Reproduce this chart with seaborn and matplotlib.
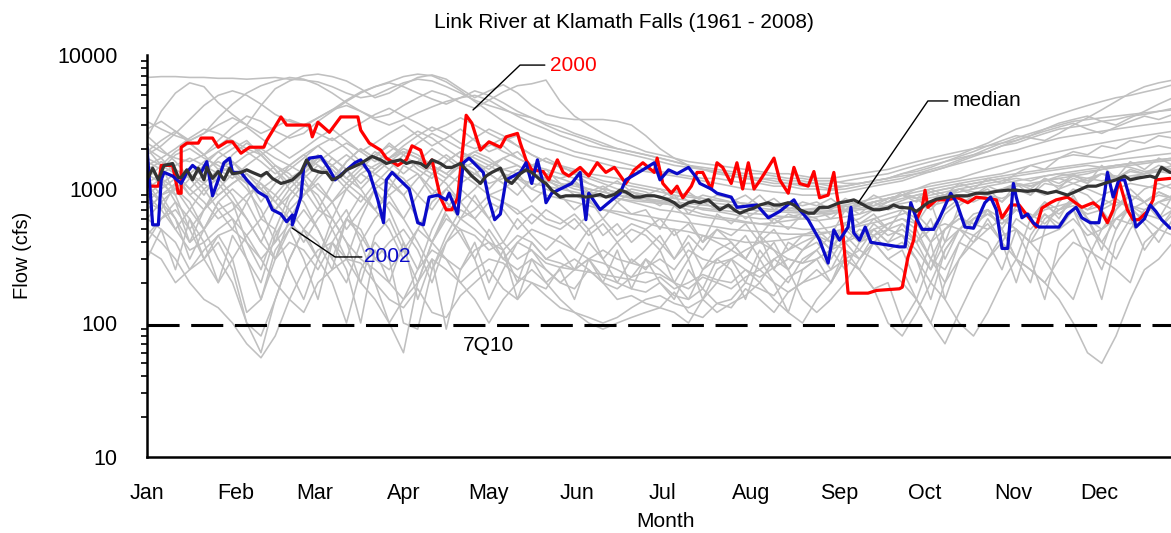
import numpy as np
import pandas as pd
import matplotlib
matplotlib.use('Agg')
import matplotlib.pyplot as plt
import matplotlib.ticker as mticker
import seaborn as sns

# month ticks (day of year)
month_days = [1, 32, 60, 91, 121, 152, 182, 213, 244, 274, 305, 335]
month_labels = ['Jan', 'Feb', 'Mar', 'Apr', 'May', 'Jun', 'Jul', 'Aug', 'Sep', 'Oct', 'Nov', 'Dec']

# 7Q10 low flow level (cfs)
q7_10 = 96

# individual years, read every 5 days (day 1 .. 361)
# month blocks: Jan 6, Feb 5, Mar..Nov 6 each, Dec 8 values
gray_days = list(range(1, 362, 5))
gray_years = [
    # wet years
    [6800,6900,6900,6800,6800,6700, 6700,6600,6700,6800,6600, 6500,6300,5800,5200,4800,5000, 5600,6200,6600,6400,5800,5200,
     4600,4200,3900,3600,3400,3100, 2900,2600,2400,2200,2000,1900, 1800,1700,1600,1500,1450,1400, 1350,1300,1300,1250,1200,1200,
     1150,1150,1100,1100,1150,1200, 1300,1400,1500,1600,1700,1800, 2000,2200,2400,2600,2800,3000, 3200,3300,3400,3500,3600,3700,3800,3900],
    [2400,3800,5200,6200,5800,4400, 3600,3000,4200,5600,6400, 7000,7200,6900,6400,5600,4800, 5200,6000,6800,7100,6600,5600,
     4800,5400,6000,5200,4200,3600, 3400,3300,3300,3300,3200,3000, 2500,2000,1700,1500,1400,1350, 1250,1200,1200,1150,1100,1100,
     1100,1050,1050,1100,1150,1200, 1300,1350,1450,1600,1750,1900, 2100,2300,2500,2400,2300,2600, 3000,3400,3900,4500,5200,5800,6200,6500],
    [1800,2100,2600,3300,4200,5000, 5400,5000,4300,3600,3200, 3000,3400,3900,4600,5300,5800, 6300,6900,7200,7000,6300,5400,
     4500,3800,3200,2800,2500,2300, 2100,1900,1800,1700,1600,1500, 1400,1350,1300,1250,1200,1200, 1150,1100,1100,1050,1050,1000,
     1000,980,1000,1050,1100,1150, 1200,1300,1400,1500,1650,1800, 1900,2100,2200,2400,2600,2800, 2900,3000,3200,3300,3500,3600,3800,4000],
    [3200,2800,2500,2300,2600,3400, 4300,5200,5900,6400,6800, 6600,6000,5200,4400,3800,3400, 3600,4200,4800,5400,5000,4400,
     4000,4600,5300,5900,6100,6500, 4500,3500,3000,2600,2300,2100, 1900,1800,1700,1600,1550,1500, 1450,1400,1350,1300,1300,1250,
     1200,1200,1250,1300,1350,1400, 1500,1600,1700,1800,1900,2000, 2100,2200,2300,2500,2800,3100, 3300,3500,3200,3000,3400,3800,4300,4800],
    [2200,1900,1700,1600,1800,2300, 2900,3500,3200,2700,2400, 2600,3200,3800,4500,5200,5800, 6200,5800,5200,4700,4300,4800,
     5400,5000,4400,3800,3400,3000, 2700,2500,2300,2100,2000,1900, 1800,1700,1600,1500,1400,1350, 1300,1250,1200,1200,1150,1150,
     1100,1100,1150,1200,1250,1300, 1400,1500,1600,1700,1800,2000, 2200,2500,2800,3000,3300,3600, 3900,4200,4500,4800,5000,5300,5600,6000],
    [1500,1700,2000,2400,2800,2600, 2300,2000,1800,2100,2500, 2900,3400,3900,4200,3800,3300, 3000,3300,3700,4100,4500,4800,
     5000,4600,4000,3500,3100,2800, 2500,2300,2100,2000,1900,1800, 1700,1600,1500,1450,1400,1300, 1250,1200,1150,1100,1100,1050,
     1050,1000,1050,1100,1150,1200, 1250,1300,1350,1450,1550,1650, 1750,1850,1950,2100,2250,2400, 2500,2600,2700,2800,2900,3000,3100,3200],
    [2800,3200,2700,2300,2600,3000, 3400,3000,2600,2900,3300, 3000,2600,2300,2700,3100,3600, 4000,3500,3100,2700,3000,3400,
     3000,2600,2300,2500,2200,2000, 1900,1750,1650,1550,1450,1400, 1350,1300,1250,1200,1150,1100, 1050,1000,980,950,930,900,
     900,920,950,1000,1050,1100, 1150,1250,1350,1450,1600,1750, 1900,2100,2300,2500,2700,2900, 3100,2800,2600,2900,3200,3500,3300,3600],
    # middle years
    [1200,1500,1300,900,1100,1400, 1600,1200,800,1100,1500, 1800,1500,1200,1600,2000,1700, 1400,1800,2200,2600,2300,2000,
     2400,2800,2500,2100,1800,1600, 1500,1400,1300,1250,1200,1100, 1050,1000,950,900,850,820, 800,780,760,740,720,700,
     700,720,740,760,800,850, 900,950,1000,1050,1100,1150, 1200,1250,1300,1350,1400,1450, 1500,1550,1600,1650,1700,1750,1800,1850],
    [900,700,1100,1300,1000,700, 500,800,1200,1500,1300, 1000,700,1100,1600,2000,1700, 2200,1800,1400,1200,1600,1900,
     1600,1400,1700,1900,1500,1300, 1200,1100,1000,950,900,850, 820,800,780,750,700,680, 650,620,600,600,620,650,
     660,680,700,750,800,850, 900,850,700,900,1000,1050, 1100,1150,1200,1150,1250,1300, 1250,1300,1400,1500,1450,1350,1400,1500],
    [1600,1400,1800,2000,1700,1500, 1300,1100,1000,1200,1400, 1700,2100,2400,2000,1600,1400, 1700,2100,2500,2900,2600,2200,
     2000,2200,1900,1700,1500,1400, 1300,1200,1100,1000,950,900, 850,800,750,700,650,620, 600,570,550,530,520,500,
     500,520,560,600,700,800, 900,1000,1050,1100,1150,1200, 1250,1300,1400,1500,1600,1700, 1800,1750,1700,1800,1900,2000,2100,2000],
    [800,1000,1200,900,700,900, 1100,1300,1100,900,700, 900,1200,1500,1800,1500,1300, 1100,900,1200,1500,1800,1500,
     1300,1100,1200,1400,1300,1200, 1100,1000,950,900,850,800, 750,700,680,650,620,600, 580,560,550,560,580,600,
     620,650,700,750,800,850, 900,850,900,950,1000,950, 900,1000,1100,1050,1150,1200, 1100,1200,1300,1250,1200,1300,1350,1300],
    [1300,1100,900,1200,1400,1600, 1400,1100,600,900,1200, 1400,1800,1500,1200,1000,1300, 1600,1900,1700,1400,1200,1500,
     1800,1600,1400,1300,1500,1700, 1500,1300,1200,1100,1000,950, 900,870,850,820,800,780, 760,740,720,700,690,680,
     680,690,700,720,750,800, 850,900,950,1000,1050,1100, 1150,1200,1250,1300,1350,1400, 1450,1500,1450,1500,1550,1600,1650,1700],
    [2000,1700,1300,1000,1300,1700, 2000,2300,1800,1400,1100, 1300,1600,1900,2200,1900,1600, 1900,2300,2700,2400,2000,1700,
     1900,2100,2400,2100,1800,1600, 1450,1350,1250,1150,1100,1050, 1000,950,900,870,850,820, 800,780,760,740,720,700,
     720,740,760,800,850,900, 950,1000,1100,1150,1200,1300, 1400,1500,1600,1700,1800,1900, 2000,2100,2200,2300,2400,2500,2600,2700],
    [1000,1200,800,400,700,1000, 1300,1000,700,400,800, 1100,900,600,1000,1300,1100, 900,600,900,1300,1100,800,
     1000,1300,1100,900,1200,1400, 1100,900,800,700,650,600, 560,520,500,480,450,430, 420,400,400,410,420,450,
     450,480,500,550,600,650, 700,600,400,650,800,850, 900,850,950,1000,900,1000, 1100,1000,900,1000,1100,1050,1000,1100],
    [1400,1600,1400,1200,1500,1900, 1600,1300,1000,800,1100, 1400,1700,1400,1100,1400,1800, 2100,1800,1500,1300,1600,1900,
     1700,1500,1300,1200,1100,1050, 1000,950,900,870,850,820, 800,780,760,740,720,700, 680,660,650,630,620,600,
     580,600,620,650,700,750, 820,900,950,1000,1050,1100, 1150,1200,1100,1050,1150,1250, 1300,1350,1400,1450,1500,1550,1600,1650],
    [1100,1300,1500,1700,1500,1300, 1500,1800,2000,1700,1500, 1300,1000,800,1000,1300,1500, 1700,1900,1700,1500,1300,1100,
     1300,1500,1700,1500,1300,1200, 1100,1050,1000,950,900,870, 850,820,800,780,760,740, 720,700,690,680,670,660,
     650,660,680,700,720,750, 780,820,860,900,950,1000, 1050,1100,1150,1200,1250,1300, 1350,1400,1450,1500,1550,1600,1650,1700],
    [700,900,1100,1300,1100,900, 1100,1300,1000,700,900, 1200,1500,1300,1000,800,1100, 1400,1200,900,700,1000,1300,
     1100,900,1000,1200,1000,900, 850,800,750,700,680,650, 630,600,580,560,540,520, 500,490,480,470,460,460,
     470,480,500,530,560,600, 650,700,750,800,850,900, 950,1000,1050,1100,1150,1200, 1250,1200,1150,1200,1250,1300,1350,1400],
    [2500,2000,1600,1200,900,1300, 1800,2200,1900,1500,1200, 900,1300,1700,1400,1000,700, 1000,1500,1300,900,1200,1600,
     1400,1000,1300,1100,800,1000, 900,700,850,600,800,650, 700,500,750,600,400,650, 550,700,450,600,500,650,
     600,450,700,550,650,500, 700,550,800,400,750,900, 1000,800,1100,900,1200,1000, 1300,1100,1500,1200,1600,1400,1700,1500],
    [1900,2300,2700,2200,1800,2100, 2500,2900,2400,2000,1700, 2000,2400,2800,2300,1900,2200, 2600,3000,2500,2100,2400,2800,
     2300,1900,2100,1700,1500,1300, 1200,1300,1100,1000,1150,950, 900,1000,850,950,800,900, 850,750,900,700,800,750,
     800,700,850,750,900,800, 950,850,1000,900,1100,1000, 1200,1100,1300,1500,1400,1700, 1900,1800,2100,2000,2300,2200,2500,2400],
    [1100,800,500,700,1000,1200, 900,600,400,700,1000, 800,500,300,600,900,700, 500,300,500,800,1000,800,
     600,800,700,500,650,550, 500,600,450,550,400,500, 450,350,500,300,450,400, 350,450,300,400,250,350,
     400,300,450,350,500,400, 450,350,250,400,500,450, 550,400,600,500,650,550, 700,500,400,600,750,650,800,700],
    [1700,1500,1900,2200,1800,1400, 1200,1500,1800,1400,1000, 1300,1700,1500,1200,1500,1900, 1600,1300,1600,2000,1700,1400,
     1600,1300,1100,1300,1000,1200, 1000,1100,900,1000,800,950, 850,750,900,650,800,700, 750,600,700,550,650,600,
     700,600,750,650,800,700, 750,650,500,700,850,800, 900,800,1000,900,1100,1050, 1200,1100,1300,1200,1400,1300,1500,1400],
    [600,800,1000,700,500,800, 1000,800,500,300,600, 900,1100,800,500,700,1000, 1200,900,600,400,700,1000,
     800,600,800,700,550,700, 600,500,650,450,550,400, 500,400,300,450,350,500, 400,300,450,250,400,350,
     450,350,500,400,550,450, 500,400,600,300,500,650, 700,500,750,600,800,700, 850,600,500,700,900,800,950,850],
    [1400,1200,1000,1300,1600,1900, 2200,1900,1600,1300,1500, 1800,2100,1700,1400,1100,1400, 1700,2000,1800,1500,1300,1600,
     1900,1700,1400,1500,1300,1150, 1050,1150,950,1050,900,1000, 950,850,1000,800,900,850, 800,900,750,850,700,800,
     750,850,700,800,750,850, 900,800,950,850,1000,900, 1050,950,1100,1000,1200,1100, 1250,1150,1300,1200,1350,1300,1400,1350],
    [900,1100,1300,1000,800,600, 700,900,1100,800,600, 400,600,800,1100,900,700, 900,1100,1300,1000,800,600,
     700,900,800,650,750,600, 550,650,500,600,450,550, 500,600,450,550,400,500, 450,550,400,500,350,450,
     500,400,550,450,600,500, 550,450,300,500,600,550, 650,550,700,600,750,650, 800,700,850,750,900,800,950,850],
    # dry years
    [600,500,400,250,350,450, 300,120,150,300,400, 350,250,400,600,500,300, 400,500,350,200,400,600,
     500,400,350,450,400,300, 280,250,300,220,200,180, 170,200,160,150,180,140, 150,200,180,160,220,250,
     300,350,250,400,450,500, 450,400,500,550,500,600, 650,550,700,600,700,750, 800,700,750,850,700,800,900,850],
    [450,600,700,500,300,400, 250,100,60,150,300, 500,400,250,600,450,300, 250,350,500,400,300,250,
     350,400,300,250,300,250, 200,180,250,200,150,160, 140,130,170,120,110,140, 130,180,150,120,170,200,
     250,200,300,250,180,200, 100,150,300,250,400,350, 300,450,500,400,450,500, 600,450,500,600,550,650,600,700],
    [800,700,500,350,400,500, 600,450,300,400,550, 450,300,200,100,250,400, 300,100,90,250,400,500,
     450,350,400,300,350,280, 260,250,240,230,220,210, 200,220,180,200,230,210, 200,250,220,260,300,280,
     350,450,400,500,450,550, 600,550,400,500,600,550, 500,600,700,650,550,700, 750,650,700,800,750,700,800,850],
    [350,300,200,250,300,450, 500,400,300,200,150, 120,200,250,300,280,200, 150,130,180,120,110,160,
     200,250,180,150,200,160, 130,120,110,100,110,130, 150,160,140,130,150,120, 140,160,200,300,250,150,
     120,150,200,300,400,300, 250,150,100,70,120,200, 300,400,300,250,200,300, 400,350,300,250,200,400,500,450],
    [700,900,1000,800,500,300, 200,100,80,150,300, 500,700,600,400,300,250, 200,150,250,350,300,200,
     250,300,280,220,200,180, 260,300,250,200,180,220, 240,230,200,180,220,200, 180,220,250,200,170,200,
     220,250,300,350,300,250, 200,150,100,200,300,400, 500,600,500,400,300,200, 150,300,500,600,700,600,500,700],
    [500,400,300,200,150,130, 100,70,55,80,150, 250,350,400,300,200,150, 100,150,200,300,250,200,
     150,100,150,200,250,200, 150,120,100,90,100,110, 120,130,120,100,150,200, 300,250,200,150,120,100,
     150,200,300,250,180,100, 80,120,200,150,100,80, 120,200,300,250,200,150, 100,60,50,80,150,250,300,400],
    [400,600,800,600,300,200, 300,450,600,500,250, 150,300,500,700,400,200, 100,60,200,400,600,500,
     300,150,250,400,350,250, 200,250,300,280,250,220, 300,250,200,150,250,300, 350,300,250,300,350,400,
     450,400,350,300,400,500, 450,300,200,350,500,600, 700,600,500,400,600,700, 800,600,400,300,500,700,800,900],
    [1000,800,600,400,500,700, 800,600,400,300,500, 700,500,300,200,400,600, 800,600,400,250,450,700,
     600,450,300,400,500,450, 400,350,300,350,300,280, 260,300,250,350,300,280, 300,350,400,350,300,280,
     300,350,400,450,500,550, 600,500,300,200,400,600, 700,500,300,200,500,800, 1000,900,700,500,800,1000,1100,1000],
    [300,500,250,600,400,200, 450,300,150,350,500, 300,150,400,250,100,350, 200,400,150,300,90,250,
     400,200,350,150,300,200, 250,150,300,200,350,180, 300,200,150,250,180,300, 250,150,300,200,120,250,
     300,200,350,250,400,300, 350,200,400,150,300,450, 400,250,500,300,150,400, 500,300,150,400,600,350,500,650],
    [1200,900,600,300,500,800, 600,300,200,450,700, 500,300,600,400,200,450, 600,350,200,400,650,450,
     300,500,350,200,400,300, 350,250,400,300,200,300, 250,350,200,300,150,250, 300,200,350,250,200,300,
     350,250,400,300,450,350, 400,300,150,350,500,400, 600,400,200,450,650,500, 700,400,250,500,750,550,400,600],
    [2000,1500,900,500,700,1100, 800,400,250,500,900, 1200,800,500,300,600,1000, 700,400,250,500,800,600,
     900,600,400,600,450,350, 450,350,500,300,400,280, 350,450,300,400,250,350, 400,300,450,350,250,350,
     450,350,550,400,500,400, 550,400,250,500,650,500, 700,500,300,600,800,600, 900,600,350,700,1000,800,600,900],
]

# year 2000
red_days = [1,5,6,10,12,13,13,15,19,20,24,26,29,31,34,37,42,43,48,50,58,59,61,65,69,75,76,79,83,85,89,92,94,97,99,101,104,106,108,110,113,115,118,121,125,127,131,132,134,136,140,142,145,147,149,153,156,159,162,165,169,172,175,179,180,182,185,187,189,192,194,196,199,201,203,206,208,210,212,214,216,219,221,223,226,228,230,233,235,237,240,242,243,245,247,254,257,265,266,268,270,271,273,274,275,278,282,285,289,292,299,301,304,307,311,313,315,318,320,324,329,333,335,338,340,342,345,347,349,352,354,355,360]
red_flow = [1050,1050,1500,1500,930,930,2050,2200,2200,2400,2400,2050,2250,2250,1850,2050,2050,2300,3450,3000,3000,2450,3150,2650,3450,3450,2750,2200,1950,1700,1500,1650,2100,1950,1450,1650,860,700,700,860,3550,3100,1950,2250,2050,2450,2600,2200,1650,1390,1350,1170,1650,1330,1250,1450,1250,1570,1330,1450,1100,1390,1570,1330,1700,1100,930,1050,860,1050,1330,1330,1000,1570,1450,1100,1570,1000,1570,1000,1150,1450,1700,1170,930,1450,1100,1050,1350,860,900,1330,930,520,167,167,175,180,185,310,415,587,730,980,730,830,830,870,790,870,830,610,760,760,590,520,720,790,830,870,730,790,730,560,700,1170,700,590,590,680,830,1170,1200]

# year 2002
blue_days = [1,3,5,6,7,10,13,15,17,20,22,24,26,28,30,31,34,36,40,43,45,48,50,52,52,55,56,58,62,65,67,74,76,79,82,84,85,87,93,96,98,100,103,106,107,110,112,114,119,121,123,125,127,132,134,136,138,140,141,143,150,153,154,155,156,160,162,167,169,175,179,181,184,187,191,194,195,199,201,206,208,215,219,223,228,230,233,235,237,240,242,244,247,248,249,251,253,255,265,267,269,271,273,277,279,283,285,288,291,295,297,299,301,303,305,306,308,310,312,314,321,324,327,329,332,335,337,338,340,342,344,346,348,351,353,355,357,360]
blue_flow = [2050,540,540,1170,1330,1250,1100,1330,1500,1330,1600,890,1170,1570,1700,1330,1330,1170,950,870,700,650,570,640,540,870,1450,1700,1750,1400,1170,1570,1650,1330,830,560,1170,1330,1000,560,540,870,900,830,930,650,1570,1700,1330,830,590,650,1170,1330,1570,1100,1650,1100,790,930,1100,1330,870,590,930,700,760,930,1170,1390,1570,1170,1390,1300,1450,1200,1100,1000,930,870,730,760,610,680,830,700,590,495,415,280,495,415,520,730,470,415,520,400,370,370,790,600,500,500,600,930,800,520,510,790,870,700,360,360,1100,870,610,650,560,520,520,650,730,610,560,560,930,1330,870,1170,1170,830,520,600,760,680,590,510]

# median of all years
med_days = [1,3,5,7,10,12,13,15,17,19,21,22,24,26,28,30,31,34,36,38,41,43,45,48,50,52,55,57,59,62,64,66,69,71,73,76,78,80,83,85,87,90,92,94,97,99,101,104,106,108,111,113,115,118,120,122,125,127,129,132,134,136,139,141,143,146,148,151,153,155,158,160,162,165,167,169,172,174,176,179,181,184,186,188,191,193,195,198,200,202,205,207,209,212,214,216,219,221,223,226,228,230,233,235,237,240,242,244,247,249,251,254,256,258,261,263,265,269,271,275,278,282,285,289,292,296,299,303,306,310,313,317,320,324,327,331,334,338,341,344,346,349,353,355,357,360]
med_flow = [1170,1430,1170,1500,1550,1220,1220,1390,1170,1430,1170,1450,1200,1350,1170,1430,1300,1330,1390,1330,1250,1330,1200,1100,1130,1170,1330,1650,1390,1330,1330,1170,1250,1390,1450,1550,1650,1750,1650,1550,1600,1650,1550,1600,1550,1450,1650,1550,1450,1450,1550,1390,1250,1100,1250,1330,1430,1170,1100,1300,1390,1330,1170,1100,980,870,890,890,890,870,890,910,870,910,980,950,870,870,890,890,870,830,790,730,790,810,790,830,760,700,760,700,660,700,720,760,790,760,760,790,760,700,660,660,730,730,760,790,810,830,790,730,700,700,720,760,730,720,680,790,840,870,890,890,930,930,960,980,980,960,980,930,960,900,960,1050,1050,1120,1170,1250,1170,1210,1250,1210,1450,1330]

gray_df = pd.concat(
    [pd.DataFrame({'day': gray_days, 'flow': vals, 'year': i}) for i, vals in enumerate(gray_years)],
    ignore_index=True)

sns.set_style('white')
plt.rcParams['font.family'] = ['Liberation Sans', 'DejaVu Sans']
plt.rcParams.update({'text.color': 'black', 'axes.labelcolor': 'black',
                     'xtick.color': 'black', 'ytick.color': 'black'})

fig = plt.figure(figsize=(11.71, 5.33), dpi=100)
ax = fig.add_axes([0.1255, 0.1426, 0.8745, 0.7542])

sns.lineplot(data=gray_df, x='day', y='flow', units='year', estimator=None,
             color='#c0c0c0', linewidth=1.15, ax=ax, legend=False)
sns.lineplot(x=red_days, y=red_flow, color='#ff0000', linewidth=2.3, ax=ax, estimator=None, sort=False)
sns.lineplot(x=blue_days, y=blue_flow, color='#0a0ac8', linewidth=2.3, ax=ax, estimator=None, sort=False)
sns.lineplot(x=med_days, y=med_flow, color='#333333', linewidth=2.3, ax=ax, estimator=None, sort=False)

ax.axhline(q7_10, color='black', linewidth=2.2, linestyle=(0, (10.5, 3.8)))

ax.set_yscale('log')
ax.set_ylim(10, 10000)
ax.set_xlim(1, 360.3)
ax.yaxis.set_major_locator(mticker.LogLocator(base=10))
ax.yaxis.set_minor_locator(mticker.LogLocator(base=10, subs=np.arange(2, 10)))
ax.yaxis.set_major_formatter(mticker.FuncFormatter(lambda v, p: f'{int(round(v))}'))
ax.yaxis.set_minor_formatter(mticker.NullFormatter())
ax.set_xticks(month_days)
ax.set_xticklabels(month_labels)

for s in ['top', 'right']:
    ax.spines[s].set_visible(False)
for s in ['left', 'bottom']:
    ax.spines[s].set_linewidth(1.8)
    ax.spines[s].set_color('black')
ax.tick_params(axis='both', which='major', direction='out', length=7, width=1.5,
               labelsize=15.5, color='black')
ax.tick_params(axis='y', which='major', pad=14)
ax.tick_params(axis='x', which='major', pad=12)
ax.tick_params(axis='y', which='minor', direction='out', length=4, width=1.2, color='black', left=True)

ax.set_xlabel('')
ax.set_ylabel('')
fig.text(0.568, 0.021, 'Month', ha='center', va='center', fontsize=15)
fig.text(0.019, 0.52, 'Flow (cfs)', ha='center', va='center', rotation=90, fontsize=14.5)
fig.text(0.533, 0.958, 'Link River at Klamath Falls (1961 - 2008)', ha='center', va='center', fontsize=15)

# labels with leader lines
ax.plot([115.4, 131.9, 140.6], [3890, 8410, 8410], color='black', linewidth=1)
ax.text(142.4, 8410, '2000', color='#ff0000', fontsize=15, va='center', ha='left')
ax.plot([51.9, 67.0, 76.4], [512, 311, 311], color='black', linewidth=1)
ax.text(77.1, 311, '2002', color='#0a0ac8', fontsize=15, va='center', ha='left')
ax.plot([250.5, 275.0, 282.0], [787, 4540, 4540], color='black', linewidth=1)
ax.text(283.8, 4540, 'median', color='black', fontsize=15, va='center', ha='left')
ax.text(121, 68, '7Q10', color='black', fontsize=15, va='center', ha='center')

fig.savefig('out.png', dpi=100)
